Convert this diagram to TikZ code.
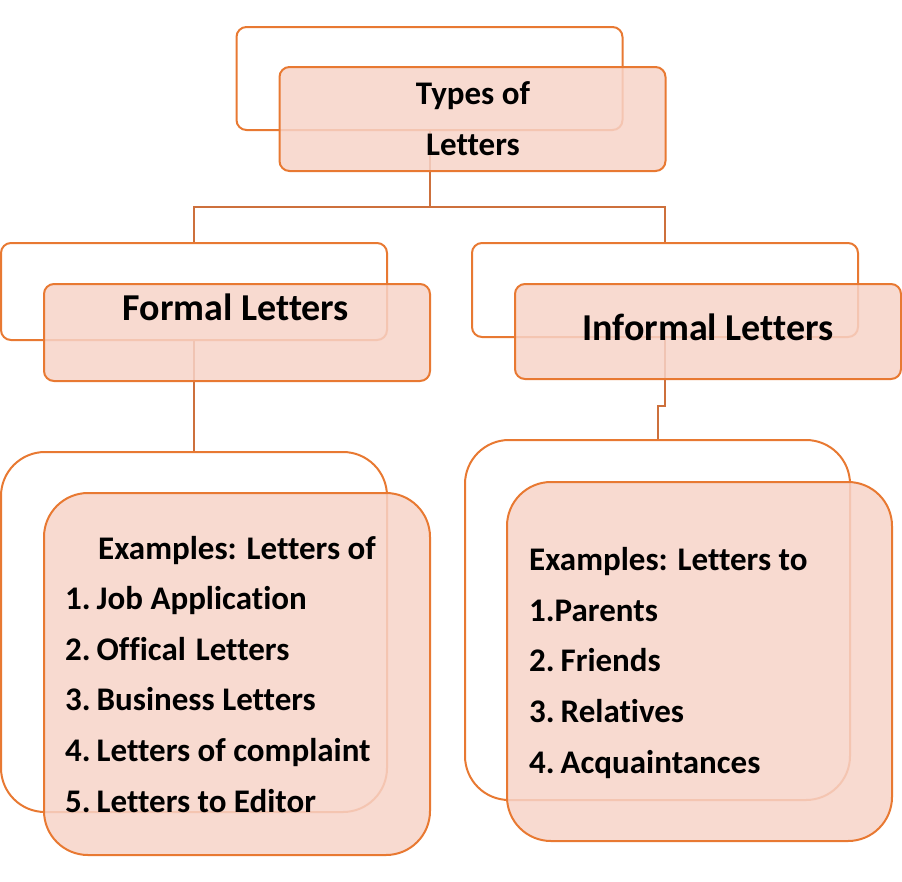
\documentclass[tikz,border=0pt]{standalone}
\usepackage{fontspec}
\setmainfont{Carlito}[Ligatures=NoCommon]
\definecolor{edge}{RGB}{232,121,50}
\definecolor{peach}{RGB}{247,211,200}
\definecolor{wire}{RGB}{205,112,60}
\tikzset{
  backbox/.style={
    shape = rectangle,
    draw = edge,
    line width = 2pt,
    rounded corners = 10pt,
    minimum width = 386pt,
    inner sep = 0pt
  },
  frontbox/.style={
    backbox,
    fill = peach,
    fill opacity = 0.85
  },
  bigbox/.style={
    rounded corners = 44pt
  },
  link/.style={
    draw = wire,
    line width = 2pt
  },
  heading/.style={
    font = \fontsize{38}{44}\selectfont\bfseries,
    anchor = base,
    inner sep = 0pt
  },
  title/.style={
    font = \fontsize{33}{51}\selectfont\bfseries,
    anchor = base,
    align = center,
    inner sep = 0pt
  },
  listing/.style={
    font = \fontsize{33}{50.6}\selectfont\bfseries,
    anchor = base west,
    align = left,
    inner sep = 0pt
  }
}
\begin{document}
\begin{tikzpicture}[x=1pt, y=-1pt]
    \useasboundingbox (0,0) rectangle (902,881);
    % back boxes
    \node[backbox, minimum height=103pt] (typesback) at (429.5,78.5) {};
    \node[backbox, minimum height=97pt] (formalback) at (194,291.5) {};
    \node[backbox, minimum height=94pt] (informalback) at (665,290) {};
    \node[backbox, bigbox, minimum height=360pt] (formalexback) at (194,632) {};
    \node[backbox, bigbox, minimum height=360pt, minimum width=385pt] (informalexback) at (657.5,620) {};
    % connectors
    \coordinate (split) at (429.5,207);
    \draw[link] (typesback.south) -- (split) -| (formalback.north);
    \draw[link] (split) -| (informalback.north);
    \draw[link] (formalback.south) -- (formalexback.north);
    \draw[link] (informalback.south) -- ++(0,68) -| (informalexback.north);
    % front boxes
    \node[frontbox, minimum height=104pt] (typesfront) at (472.5,119) {};
    \node[frontbox, minimum height=97pt] (formalfront) at (237,332.5) {};
    \node[frontbox, minimum height=95pt] (informalfront) at (708,331.5) {};
    \node[frontbox, bigbox, minimum height=362pt] (formalexfront) at (237,674) {};
    \node[frontbox, bigbox, minimum height=359pt, minimum width=385pt] (informalexfront) at (699.5,661.5) {};
    % texts (base = last line)
    \node[title] (typestxt) at (473,155) {Types of\\Letters};
    \node[heading] (formaltxt) at (236,320) {Formal Letters};
    \node[heading] (informaltxt) at (708,340) {Informal Letters};
    \node[listing] (formallist) at (65,812) {\hspace*{33pt}Examples:\hspace{0.3em}Letters of\\1.\hspace{0.18em}Job Application\\2.\hspace{0.18em}Offical\hspace{0.3em}Letters\\3.\hspace{0.18em}Business Letters\\4.\hspace{0.18em}Letters of complaint\\5.\hspace{0.18em}Letters to Editor};
    \node[listing] (informallist) at (529,773) {Examples:\hspace{0.3em}Letters to\\1.Parents\\2.\hspace{0.18em}Friends\\3.\hspace{0.18em}Relatives\\4.\hspace{0.18em}Acquaintances};
\end{tikzpicture}
\end{document}
